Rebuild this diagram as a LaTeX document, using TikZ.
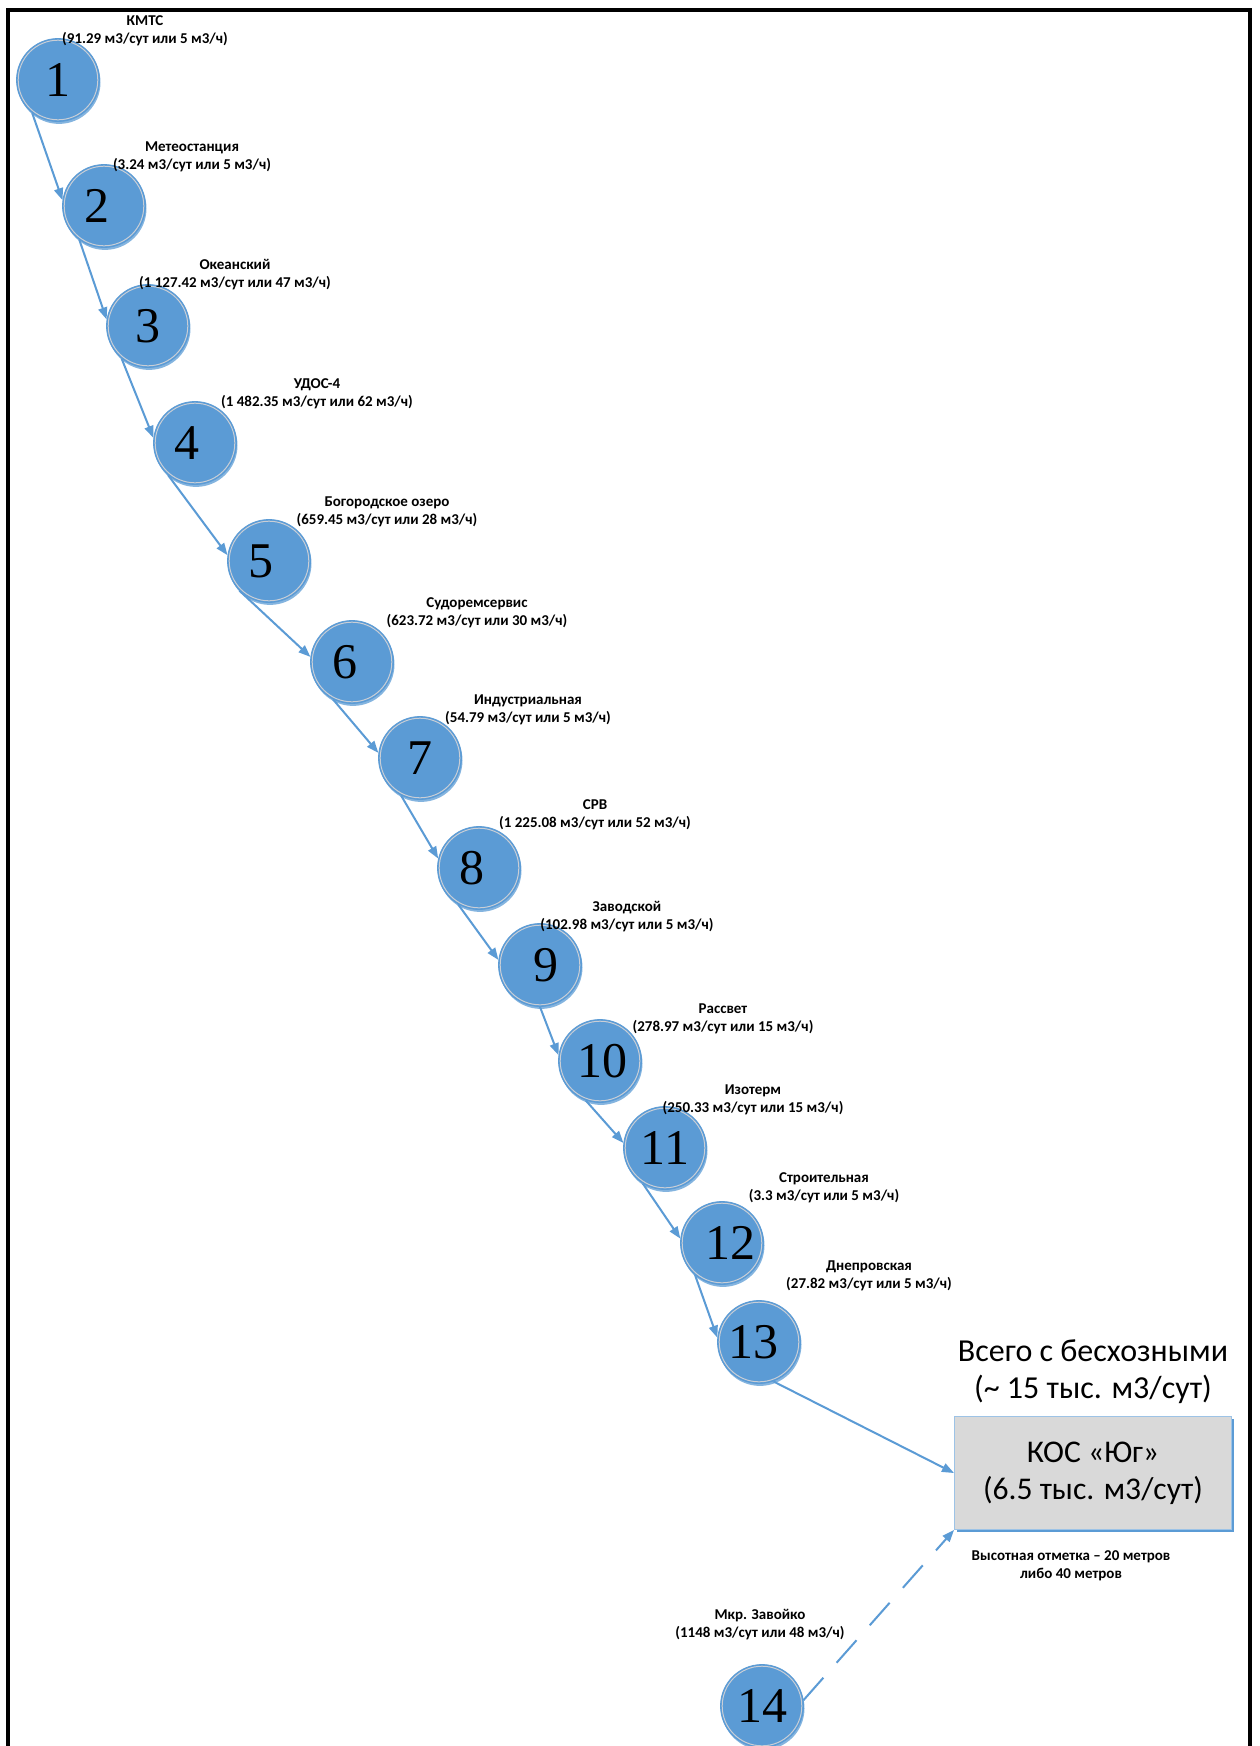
\documentclass[tikz,border=0pt]{standalone}
\usepackage{fontspec}
\setmainfont{Carlito}
\newfontfamily\numfont{Liberation Serif}
\usetikzlibrary{arrows.meta,shadows}
\definecolor{nodeblue}{HTML}{5B9BD5}
\definecolor{ringgray}{HTML}{C9CED6}
\definecolor{boxgray}{HTML}{D9D9D9}
\definecolor{boxedge}{HTML}{9DC3E6}
\begin{document}
\begin{tikzpicture}[x=0.5pt,y=-0.5pt,
  station/.style={circle, inner sep=0pt, minimum size=41.5pt, fill=nodeblue,
    draw=nodeblue, line width=0.4pt, text=black,
    font=\numfont\fontsize{25}{25}\selectfont,
    drop shadow={shadow xshift=0.5pt, shadow yshift=-1.2pt, fill=nodeblue, opacity=0.75},
    path picture={\draw[ringgray, line width=0.5pt] (path picture bounding box.center) circle (19.9pt);}},
  nudge/.style={execute at begin node={\hspace*{#1}}},
  lbl/.style={font=\bfseries\fontsize{7.5}{9}\selectfont, align=center, inner sep=0pt},
  flow/.style={draw=nodeblue, line width=1pt, -{Triangle[length=6pt,width=4.5pt]}},
  kosbox/.style={rectangle, fill=boxgray, draw=boxedge, line width=0.5pt,
    minimum width=138.5pt, minimum height=56.5pt, align=center, inner sep=0pt,
    font=\fontsize{15.8}{18.6}\selectfont,
    drop shadow={shadow xshift=1pt, shadow yshift=-1pt, fill=nodeblue, opacity=1}},
  bigtext/.style={font=\fontsize{16}{18.5}\selectfont, align=center, inner sep=0pt}
]
\useasboundingbox (0,0) rectangle (1259,1746);
\fill[white] (0,0) rectangle (1259,1746);
\draw[line width=2.3pt, line join=miter] (8,1746) -- (8,10) -- (1250,10) -- (1250,1746);

% stations
\node[station] (n1) at (58,80) {1};
\node[station, nudge=-7pt] (n2) at (104,206) {2};
\node[station] (n3) at (148,326) {3};
\node[station, nudge=-8pt] (n4) at (195,443) {4};
\node[station, nudge=-8pt] (n5) at (269,561) {5};
\node[station, nudge=-7pt] (n6) at (352,662) {6};
\node[station] (n7) at (420,758) {7};
\node[station, nudge=-7pt] (n8) at (479,868) {8};
\node[station, nudge=6pt] (n9) at (540,965) {9};
\node[station, nudge=2pt] (n10) at (600,1061) {10};
\node[station] (n11) at (665,1148) {11};
\node[station, nudge=8pt] (n12) at (722,1243) {12};
\node[station, nudge=-6pt] (n13) at (759,1342) {13};
\node[station] (n14) at (762,1706) {14};

% treatment plant
\node[kosbox] (kos) at (1093,1473) {КОС «Юг»\\ (6.5 тыс. м3/сут)};
\node[bigtext] (total) at (1093,1372) {Всего с бесхозными\\ (\textasciitilde{} 15 тыс. м3/сут)};
\node[lbl] (height) at (1071,1566) {Высотная отметка – 20 метров\\ либо 40 метров};

% labels
\node[lbl] (l1) at (145,31) {КМТС\\(91.29 м3/сут или 5 м3/ч)};
\node[lbl] (l2) at (192,157) {Метеостанция\\(3.24 м3/сут или 5 м3/ч)};
\node[lbl] (l3) at (235,275) {Океанский\\(1 127.42 м3/сут или 47 м3/ч)};
\node[lbl] (l4) at (317,394) {УДОС-4\\(1 482.35 м3/сут или 62 м3/ч)};
\node[lbl] (l5) at (387,512) {Богородское озеро\\(659.45 м3/сут или 28 м3/ч)};
\node[lbl] (l6) at (477,613) {Судоремсервис\\(623.72 м3/сут или 30 м3/ч)};
\node[lbl] (l7) at (528,710) {Индустриальная\\(54.79 м3/сут или 5 м3/ч)};
\node[lbl] (l8) at (595,815) {СРВ\\(1 225.08 м3/сут или 52 м3/ч)};
\node[lbl] (l9) at (627,917) {Заводской\\(102.98 м3/сут или 5 м3/ч)};
\node[lbl] (l10) at (723,1019) {Рассвет\\(278.97 м3/сут или 15 м3/ч)};
\node[lbl] (l11) at (753,1100) {Изотерм\\(250.33 м3/сут или 15 м3/ч)};
\node[lbl] (l12) at (824,1188) {Строительная\\(3.3 м3/сут или 5 м3/ч)};
\node[lbl] (l13) at (869,1276) {Днепровская\\(27.82 м3/сут или 5 м3/ч)};
\node[lbl] (l14) at (760,1625) {Мкр. Завойко\\(1148 м3/сут или 48 м3/ч)};

% connectors
\draw[flow] (n1.232) -- (n2.172);
\draw[flow] (n2.234) -- (n3.171);
\draw[flow] (n3.231) -- (n4.173);
\draw[flow] (n4.230) -- (n5.172);
\draw[flow] (n5.225) -- (n6.173);
\draw[flow] (n6.243) -- (n7.173);
\draw[flow] (n7.243) -- (n8.167);
\draw[flow] (n8.240) -- (n9.173);
\draw[flow] (n9.270) -- (n10.172);
\draw[flow] (n10.250) -- (n11.173);
\draw[flow] (n11.238) -- (n12.174);
\draw[flow] (n12.230) -- (n13.174);
\draw[flow] (n13.290) -- (kos.west);
\draw[flow, dash pattern=on 15pt off 10pt] (n14.8) -- (kos.south west);
\end{tikzpicture}
\end{document}
